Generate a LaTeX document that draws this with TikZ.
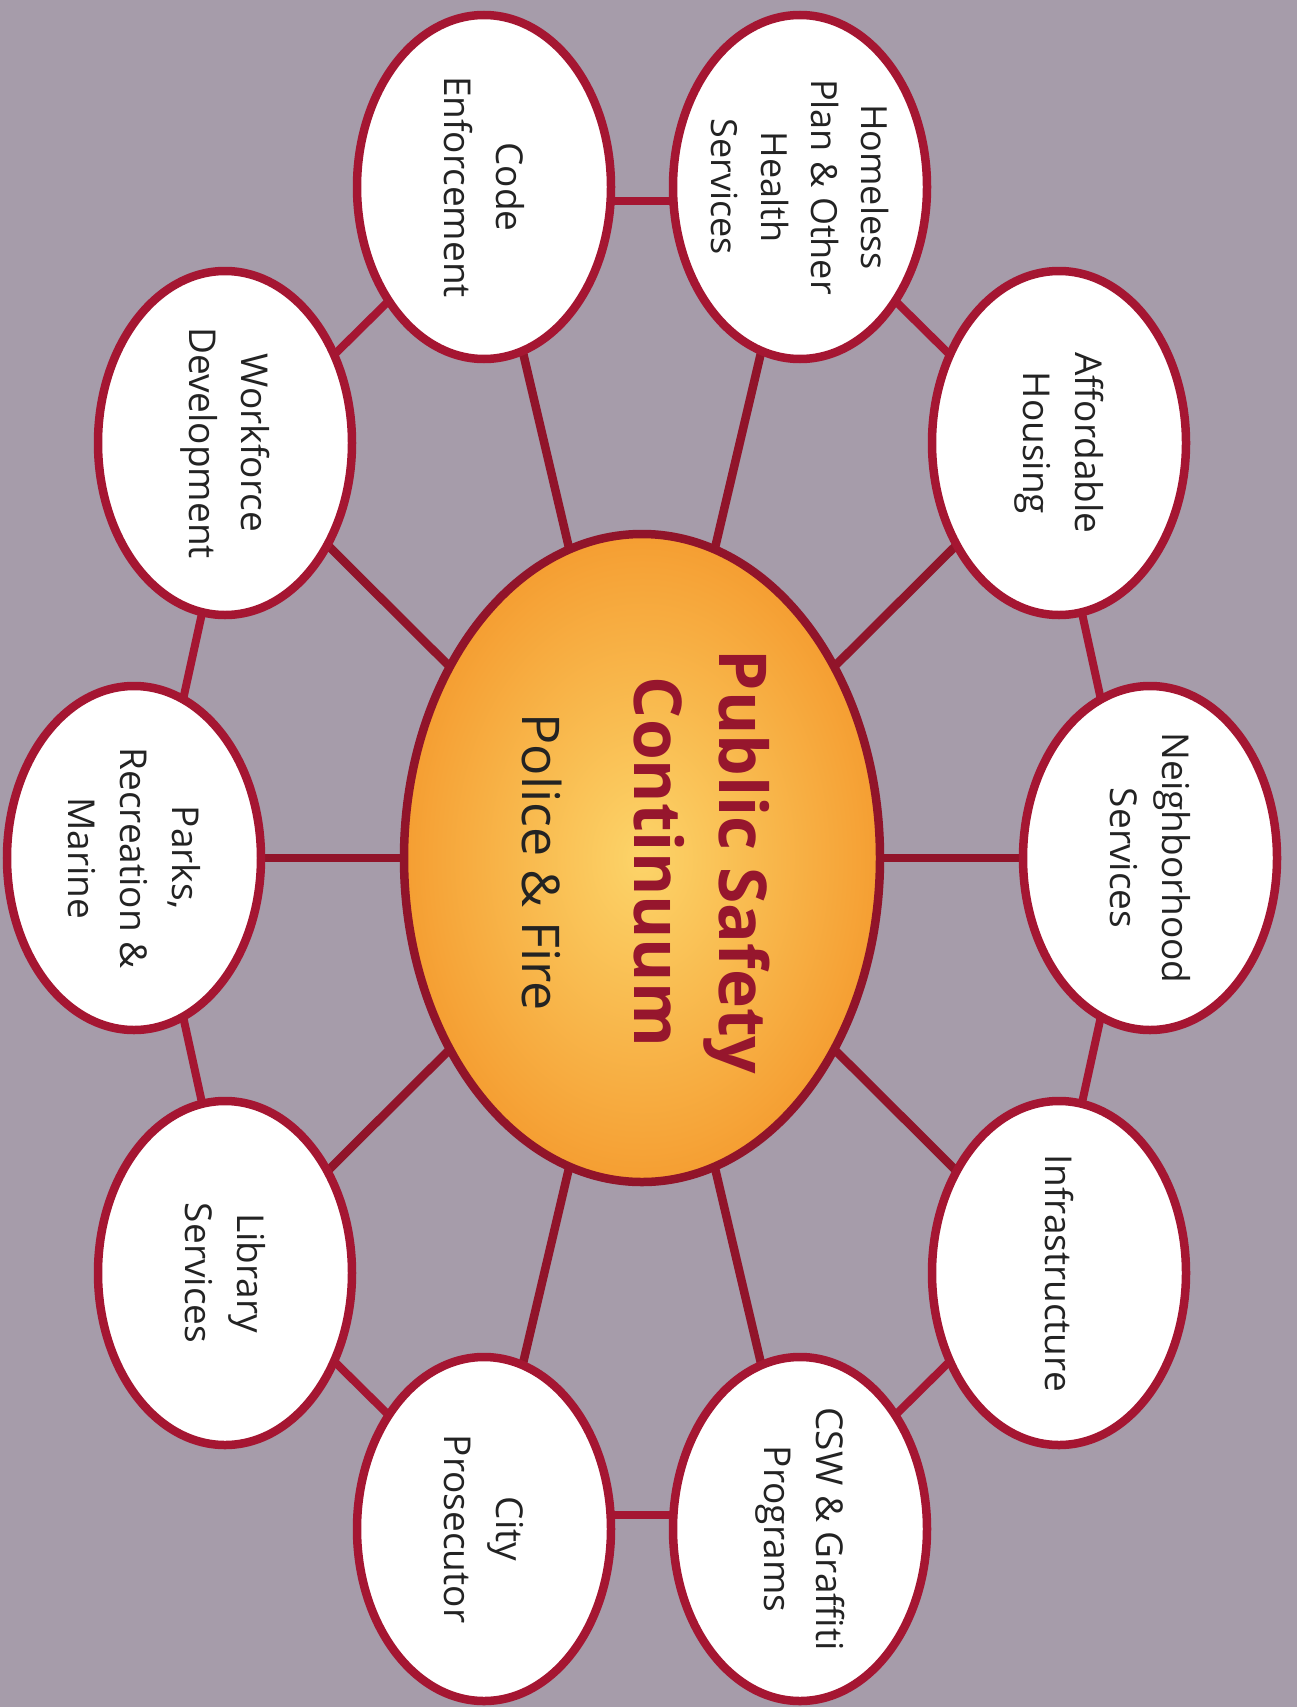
\documentclass[tikz,border=0pt]{standalone}
\usepackage{fontspec}
\setmainfont{Open Sans}
\usetikzlibrary{shapes.geometric,calc,backgrounds}
\definecolor{bgc}{RGB}{166,156,170}
\definecolor{rim}{RGB}{165,22,50}
\definecolor{hubrim}{RGB}{145,20,42}
\definecolor{titlec}{RGB}{150,22,45}
\definecolor{txt}{RGB}{35,35,35}
\definecolor{sunin}{RGB}{252,212,105}
\definecolor{sunout}{RGB}{245,158,50}
\begin{document}
\begin{tikzpicture}[x=1pt,y=-1pt,
  bubble/.style={ellipse, draw=rim, line width=8.5pt, fill=white,
    minimum width=254pt, minimum height=344pt, inner sep=0pt},
  hub/.style={ellipse, draw=hubrim, line width=8.5pt, inner color=sunin, outer color=sunout,
    minimum width=476pt, minimum height=648pt, inner sep=0pt},
  btext/.style={rotate=-90, align=center, text=txt, inner sep=0pt,
    font=\fontsize{37}{52}\selectfont},
  link/.style={draw=rim, line width=8pt},
  spoke/.style={draw=hubrim, line width=8.5pt}
]
\useasboundingbox (0,0) rectangle (1297,1707);

% shapes
\node[hub] (ps) at (642,858) {};
\node[bubble] (hp) at (800,187) {};
\node[bubble] (ce) at (484,187) {};
\node[bubble] (ah) at (1059,443) {};
\node[bubble] (wd) at (225,443) {};
\node[bubble] (ns) at (1150,858) {};
\node[bubble] (pr) at (134,858) {};
\node[bubble] (in) at (1059,1273) {};
\node[bubble] (ls) at (225,1273) {};
\node[bubble] (cg) at (800,1529) {};
\node[bubble] (cp) at (484,1529) {};

% texts
\node[btext, font=\fontsize{36}{50}\selectfont] (hpt) at (hp.center) {Homeless\\Plan \& Other\\Health\\Services};
\node[btext] (cet) at (ce.center) {Code\\Enforcement};
\node[btext] (aht) at (ah.center) {Affordable\\Housing};
\node[btext] (wdt) at (wd.center) {Workforce\\Development};
\node[btext] (nst) at (ns.center) {Neighborhood\\Services};
\node[btext] (prt) at (pr.center) {Parks,\\Recreation \&\\Marine};
\node[btext] (int) at (in.center) {Infrastructure};
\node[btext] (lst) at (ls.center) {Library\\Services};
\node[btext] (cgt) at (cg.center) {CSW \& Graffiti\\Programs};
\node[btext] (cpt) at (cp.center) {City\\Prosecutor};

\node[rotate=-90, align=center, text=titlec, inner sep=0pt,
  font=\fontsize{66}{85}\selectfont\bfseries] (pst) at (702,862) {Public Safety\\Continuum};
\node[rotate=-90, text=txt, inner sep=0pt,
  font=\fontsize{52}{60}\selectfont] (pft) at (542,862) {Police \& Fire};

\begin{pgfonlayer}{background}
  \fill[bgc] (0,0) rectangle (1297,1707);
  \foreach \n in {hp,ce,ah,wd,ns,pr,in,ls,cg,cp}
    \draw[spoke] (ps.center) -- (\n.center);
  \foreach \a/\b in {hp/ah,ah/ns,ns/in,in/cg,cg/cp,cp/ls,ls/pr,pr/wd,wd/ce,ce/hp}
    \draw[link] ($(\a.center)!14pt!-90:(\b.center)$) -- ($(\b.center)!14pt!90:(\a.center)$);
\end{pgfonlayer}
\end{tikzpicture}
\end{document}
